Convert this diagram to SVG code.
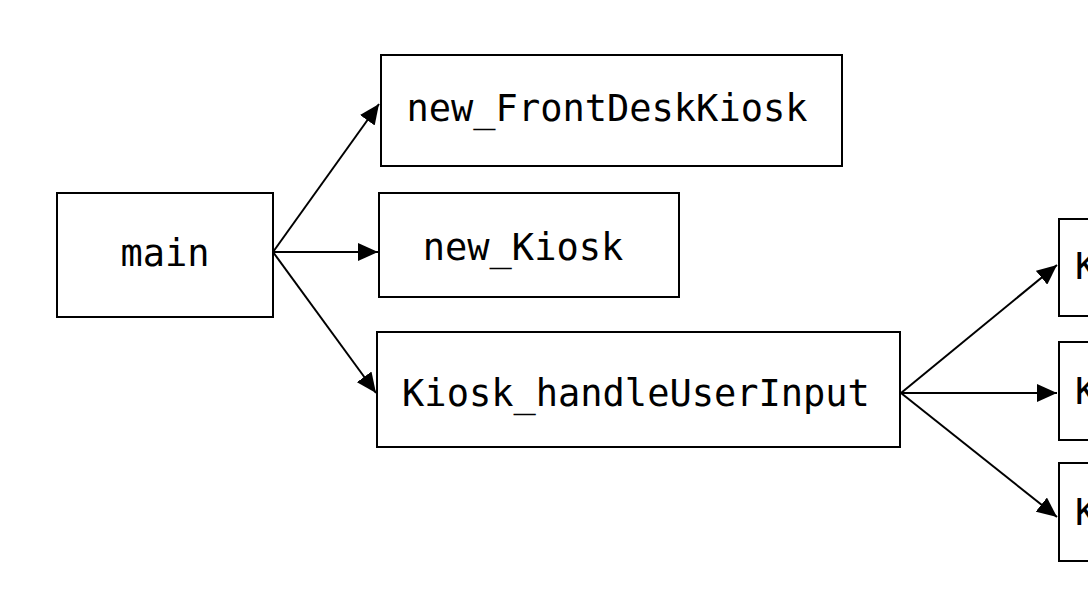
<svg xmlns="http://www.w3.org/2000/svg" width="1088" height="610" viewBox="0 0 1088 610">
<style>
.box{fill:#fff;stroke:#000;stroke-width:2}
.lbl{font-family:"DejaVu Sans Mono",monospace;font-size:37px;fill:#000;text-anchor:middle}
.edge{stroke:#000;stroke-width:2;fill:none}
</style>
<defs>
<marker id="ah" markerUnits="userSpaceOnUse" markerWidth="22" markerHeight="18" refX="20" refY="9" orient="auto">
<path d="M0,0 L20,9 L0,18 Z" fill="#000"/>
</marker>
</defs>
<rect width="1088" height="610" fill="#fff"/>
<g id="connectors">
<path class="edge" d="M273,252 L379,104" marker-end="url(#ah)"/>
<path class="edge" d="M273,252 L378,252" marker-end="url(#ah)"/>
<path class="edge" d="M273,252 L376,393" marker-end="url(#ah)"/>
<path class="edge" d="M901,393 L1057,265" marker-end="url(#ah)"/>
<path class="edge" d="M901,393 L1057,393" marker-end="url(#ah)"/>
<path class="edge" d="M901,393 L1057,517" marker-end="url(#ah)"/>
</g>
<g id="main"><rect class="box" x="57" y="193" width="216" height="124"/><text class="lbl" x="165" y="266">main</text></g>
<g id="new_FrontDeskKiosk"><rect class="box" x="381" y="55" width="461" height="111"/><text class="lbl" x="607" y="121">new_FrontDeskKiosk</text></g>
<g id="new_Kiosk"><rect class="box" x="379" y="193" width="300" height="104"/><text class="lbl" x="523" y="260">new_Kiosk</text></g>
<g id="Kiosk_handleUserInput"><rect class="box" x="377" y="332" width="523" height="115"/><text class="lbl" x="636" y="406">Kiosk_handleUserInput</text></g>
<g id="right1"><rect class="box" x="1059" y="219" width="60" height="97"/><text class="lbl" x="1075" y="279" style="text-anchor:start">K</text></g>
<g id="right2"><rect class="box" x="1059" y="342" width="60" height="98"/><text class="lbl" x="1075" y="404" style="text-anchor:start">K</text></g>
<g id="right3"><rect class="box" x="1059" y="463" width="60" height="98"/><text class="lbl" x="1075" y="525" style="text-anchor:start">K</text></g>
</svg>
